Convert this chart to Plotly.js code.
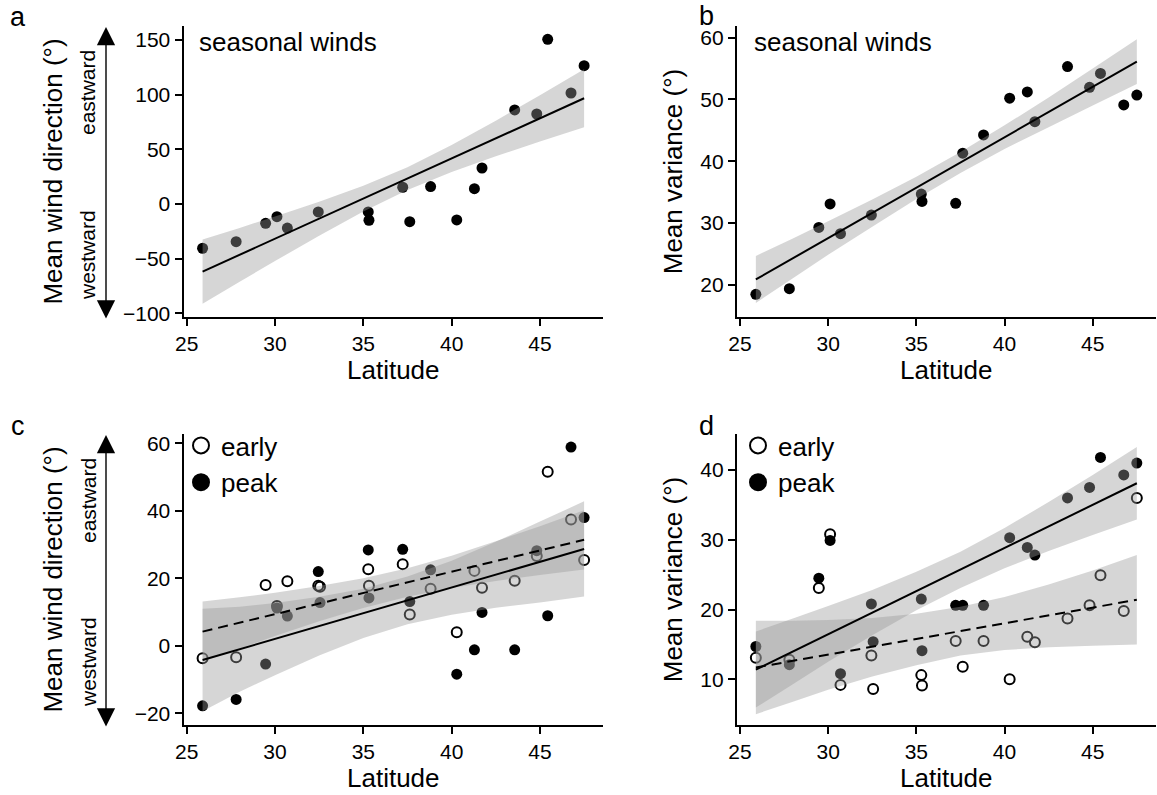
<!DOCTYPE html>
<html><head><meta charset="utf-8">
<script src="https://cdn.plot.ly/plotly-3.0.1.min.js"></script>
<style>html,body{margin:0;padding:0;background:#fff}#chart{width:1157px;height:795px}</style>
</head><body><div id="chart"></div>
<script>
// ---------- data ----------
// panels a, b: seasonal winds, 19 sites
const latSeason = [25.9, 27.8, 29.47, 30.11, 30.7, 32.45, 35.28, 35.32, 37.23, 37.63, 38.81, 40.29, 41.29, 41.72, 43.57, 44.82, 45.44, 46.76, 47.5];
const dirSeason = [-40.5, -34.5, -17.7, -11.6, -22.0, -7.3, -7.3, -14.9, 15.3, -16.2, 15.9, -14.6, 14.0, 32.9, 86.0, 82.3, 150.6, 101.5, 126.5];
const varSeason = [18.5, 19.4, 29.3, 33.1, 28.3, 31.3, 34.7, 33.5, 33.2, 41.3, 44.25, 50.2, 51.2, 46.4, 55.3, 51.95, 54.2, 49.1, 50.7];

// panels c, d: early vs peak, 20 sites
const latPhase = [25.9, 27.8, 29.47, 30.11, 30.7, 32.45, 32.55, 35.28, 35.32, 37.23, 37.63, 38.81, 40.29, 41.29, 41.72, 43.57, 44.82, 45.44, 46.76, 47.5];
const dirEarly = [-3.7, -3.4, 18.0, 11.8, 19.1, 17.8, 17.5, 22.7, 17.8, 24.2, 9.3, 16.9, 4.0, 22.2, 17.2, 19.3, 26.6, 51.6, 37.4, 25.4];
const dirPeak  = [-17.8, -15.9, -5.4, 11.2, 8.8, 22.0, 12.8, 28.4, 14.2, 28.6, 13.1, 22.5, -8.4, -1.2, 9.9, -1.2, 28.2, 8.9, 58.9, 38.0];
const varEarly = [13.1, 12.8, 23.1, 30.8, 9.2, 13.4, 8.6, 10.6, 9.1, 15.5, 11.8, 15.5, 10.0, 16.1, 15.3, 18.7, 20.6, 24.9, 19.8, 36.0];
const varPeak  = [14.7, 12.1, 24.5, 29.9, 10.8, 20.8, 15.4, 21.5, 14.1, 20.6, 20.6, 20.6, 30.3, 28.9, 27.8, 36.0, 37.5, 41.8, 39.3, 41.0];

// regression fits (end points) and confidence bands
const fitLat  = [25.9, 47.5];
const bandLat = [25.9, 28, 30, 32.5, 35, 37.5, 40, 42.5, 45, 47.5];

const fitA   = [-61.9, 96.7];
const upperA = [-32.6, -21.9, -11.4, 2.1, 16.7, 33.7, 53.9, 76.2, 99.5, 123.3];
const lowerA = [-91.2, -71.1, -52.2, -29.1, -6.9, 12.7, 29.3, 43.6, 57.1, 70.1];

const fitB   = [20.9, 56.1];
const upperB = [24.7, 27.5, 30.3, 33.8, 37.5, 41.5, 45.8, 50.3, 55.0, 59.7];
const lowerB = [17.1, 21.1, 24.9, 29.4, 33.9, 38.1, 42.0, 45.5, 49.0, 52.5];

const fitPeakC    = [-4.2, 28.7];
const upperPeakC  = [11.0, 11.6, 12.7, 14.5, 16.9, 20.5, 25.2, 30.8, 36.8, 42.8];
const lowerPeakC  = [-19.4, -13.6, -8.7, -2.9, 2.3, 6.4, 9.2, 11.3, 12.8, 14.6];
const fitEarlyC   = [4.2, 31.4];
const upperEarlyC = [13.1, 14.4, 15.7, 17.7, 20.0, 23.0, 26.7, 31.0, 35.4, 40.2];
const lowerEarlyC = [-4.7, -0.8, 2.9, 7.3, 11.2, 14.5, 17.1, 19.2, 21.0, 22.6];

const fitPeakD    = [11.4, 38.1];
const upperPeakD  = [16.85, 18.7, 20.5, 22.8, 25.4, 28.3, 31.7, 35.4, 39.3, 43.3];
const lowerPeakD  = [5.95, 9.3, 12.5, 16.3, 19.9, 23.1, 25.9, 28.4, 30.7, 32.9];
const fitEarlyD   = [11.7, 21.4];
const upperEarlyD = [18.4, 18.4, 18.5, 18.8, 19.4, 20.4, 21.8, 23.6, 25.6, 27.8];
const lowerEarlyD = [5.0, 6.8, 8.5, 10.4, 12.0, 13.4, 14.2, 14.6, 14.8, 15.0];

const xTicks = [25, 30, 35, 40, 45];
const yTicksA = [-100, -50, 0, 50, 100, 150];
const yTicksB = [20, 30, 40, 50, 60];
const yTicksC = [-20, 0, 20, 40, 60];
const yTicksD = [10, 20, 30, 40];

// ---------- styling / layout ----------
const W = 1157, H = 795;
const px = v => v / W, py = v => 1 - v / H;
const FONT = '"Liberation Sans", Arial, Helvetica, sans-serif';
const BAND = 'rgba(153,153,153,0.4)';

function band(lo, up, xa, ya) {
  return {type: 'scatter', x: bandLat.concat(bandLat.slice().reverse()),
    y: up.concat(lo.slice().reverse()), xaxis: xa, yaxis: ya,
    mode: 'none', fill: 'toself', fillcolor: BAND, hoverinfo: 'skip', showlegend: false};
}
function fit(vals, xa, ya, dash) {
  return {type: 'scatter', x: fitLat, y: vals, xaxis: xa, yaxis: ya, mode: 'lines',
    line: {color: '#000', width: 2, dash: dash || 'solid'}, showlegend: false, hoverinfo: 'skip'};
}
function filled(lat, vals, xa, ya, name) {
  return {type: 'scatter', name: name, x: lat, y: vals, xaxis: xa, yaxis: ya, mode: 'markers',
    marker: {symbol: 'circle', size: 11, color: '#000'}, showlegend: false};
}
function hollow(lat, vals, xa, ya, name) {
  return {type: 'scatter', name: name, x: lat, y: vals, xaxis: xa, yaxis: ya, mode: 'markers',
    marker: {symbol: 'circle-open', size: 10, color: '#000', line: {width: 2, color: '#000'}}, showlegend: false};
}
function legendEntry(name, symbol, legendId, rank) {
  return {type: 'scatter', name: name, x: [null], y: [null], mode: 'markers', legend: legendId, legendrank: rank,
    xaxis: legendId === 'legend' ? 'x3' : 'x4', yaxis: legendId === 'legend' ? 'y3' : 'y4',
    marker: {symbol: symbol, size: 16, color: '#000', line: {width: 2, color: '#000'}}, showlegend: true};
}

const traces = [
  // a
  filled(latSeason, dirSeason, 'x', 'y', 'seasonal'),
  band(lowerA, upperA, 'x', 'y'),
  fit(fitA, 'x', 'y'),
  // b
  filled(latSeason, varSeason, 'x2', 'y2', 'seasonal'),
  band(lowerB, upperB, 'x2', 'y2'),
  fit(fitB, 'x2', 'y2'),
  // c
  filled(latPhase, dirPeak, 'x3', 'y3', 'peak'),
  hollow(latPhase, dirEarly, 'x3', 'y3', 'early'),
  band(lowerPeakC, upperPeakC, 'x3', 'y3'),
  band(lowerEarlyC, upperEarlyC, 'x3', 'y3'),
  fit(fitPeakC, 'x3', 'y3'),
  fit(fitEarlyC, 'x3', 'y3', '10px,6px'),
  // d
  filled(latPhase, varPeak, 'x4', 'y4', 'peak'),
  hollow(latPhase, varEarly, 'x4', 'y4', 'early'),
  band(lowerPeakD, upperPeakD, 'x4', 'y4'),
  band(lowerEarlyD, upperEarlyD, 'x4', 'y4'),
  fit(fitPeakD, 'x4', 'y4'),
  fit(fitEarlyD, 'x4', 'y4', '10px,6px'),
  // legends
  legendEntry('early', 'circle-open', 'legend', 1),
  legendEntry('peak', 'circle', 'legend', 2),
  legendEntry('early', 'circle-open', 'legend2', 1),
  legendEntry('peak', 'circle', 'legend2', 2)
];

const XL = [px(183.5), px(603)], XR = [px(736.8), px(1155.7)];
const YT = [py(317), py(26)], YB = [py(725), py(434)];
const tickFont = {family: FONT, size: 21, color: '#000'};
const titleFont = {family: FONT, size: 26, color: '#000'};

function xAxis(domain, anchor) {
  return {domain: domain, anchor: anchor, range: [24.82, 48.57], tickvals: xTicks,
    ticks: 'outside', ticklen: 7, tickwidth: 2, tickcolor: '#000',
    showline: true, linecolor: '#000', linewidth: 2, showgrid: false, zeroline: false,
    tickfont: tickFont, title: {text: 'Latitude', font: titleFont, standoff: 1}};
}
function yAxis(domain, anchor, range, ticks, title, standoff) {
  return {domain: domain, anchor: anchor, range: range, tickvals: ticks,
    ticks: 'outside', ticklen: 7, tickwidth: 2, tickcolor: '#000',
    showline: true, linecolor: '#000', linewidth: 2, showgrid: false, zeroline: false,
    tickfont: tickFont, title: {text: title, font: titleFont, standoff: standoff}};
}

function label(text, x, y, size, extra) {
  return Object.assign({xref: 'paper', yref: 'paper', x: px(x), y: py(y), text: text, showarrow: false,
    xanchor: 'center', yanchor: 'middle', font: {family: FONT, size: size, color: '#000'}}, extra || {});
}
function doubleArrow(xPix, topY, bottomY) {
  return {xref: 'paper', yref: 'paper', x: px(xPix), y: py(topY), ax: 0, ay: bottomY - topY,
    axref: 'pixel', ayref: 'pixel', text: '', showarrow: true, arrowside: 'end+start',
    arrowhead: 2, startarrowhead: 2, arrowsize: 2.6, startarrowsize: 2.6,
    arrowwidth: 1.4, arrowcolor: '#000', standoff: 0, startstandoff: 0, font: {size: 1}};
}

const annotations = [
  label('a', 18, 17, 27), label('b', 706, 16, 27), label('c', 18, 426, 27), label('d', 706, 426, 27),
  label('seasonal winds', 197, 42, 26, {xanchor: 'left'}),
  label('seasonal winds', 752, 42, 26, {xanchor: 'left'}),
  label('eastward', 88, 92, 21, {textangle: -90}),
  label('westward', 88, 255, 21, {textangle: -90}),
  label('eastward', 88, 500, 21, {textangle: -90}),
  label('westward', 88, 662, 21, {textangle: -90}),
  doubleArrow(106, 27, 320),
  doubleArrow(106, 435, 728)
];

const legendBase = {yanchor: 'top', xanchor: 'left', bgcolor: 'rgba(0,0,0,0)', borderwidth: 0,
  font: {family: FONT, size: 26, color: '#000'}, tracegroupgap: 0, itemclick: false};

const layout = {
  width: W, height: H, margin: {l: 0, r: 0, t: 0, b: 0},
  paper_bgcolor: '#fff', plot_bgcolor: 'rgba(0,0,0,0)',
  font: {family: FONT, color: '#000'},
  xaxis: xAxis(XL, 'y'), yaxis: yAxis(YT, 'x', [-103.4, 162.8], yTicksA, 'Mean wind direction (°)', 53),
  xaxis2: xAxis(XR, 'y2'), yaxis2: yAxis(YT, 'x2', [14.83, 61.86], yTicksB, 'Mean variance (°)', 10),
  xaxis3: xAxis(XL, 'y3'), yaxis3: yAxis(YB, 'x3', [-23.47, 62.76], yTicksC, 'Mean wind direction (°)', 65),
  xaxis4: xAxis(XR, 'y4'), yaxis4: yAxis(YB, 'x4', [3.45, 45.16], yTicksD, 'Mean variance (°)', 10),
  showlegend: true,
  legend: Object.assign({x: px(181), y: py(422)}, legendBase),
  legend2: Object.assign({x: px(738), y: py(422)}, legendBase),
  annotations: annotations
};

Plotly.newPlot('chart', traces, layout, {displayModeBar: false, staticPlot: true});
</script>
</body></html>
